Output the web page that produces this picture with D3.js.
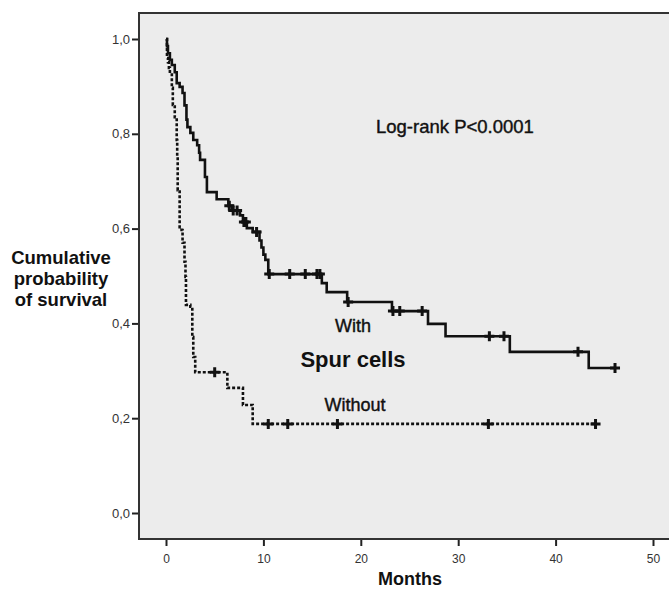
<!DOCTYPE html>
<html>
<head>
<meta charset="utf-8">
<script src="https://cdn.jsdelivr.net/npm/d3@7"></script>
<style>
body { margin: 0; background: #fff; }
svg { display: block; font-family: "Liberation Sans", Arial, sans-serif; }
</style>
</head>
<body>
<div class="container"></div>
<script>
var W = 669, H = 594;

// survival steps: time of drop (months) and survival after the drop
var withTimes = [0, 0.1, 0.2, 0.4, 0.6, 0.9, 1.1, 1.4, 1.7, 1.9, 2.1, 2.2, 2.5, 2.8, 3.2, 3.4, 3.5, 4.0, 4.2, 5.2, 6.4, 6.8, 7.6, 7.9, 8.3, 8.9, 9.6, 9.8, 10.0, 10.2, 10.5, 16.0, 16.5, 18.6, 23.2, 26.9, 28.7, 35.3, 43.4];
var withSurv  = [1.0, 0.985, 0.97, 0.956, 0.945, 0.93, 0.907, 0.899, 0.886, 0.86, 0.83, 0.814, 0.802, 0.787, 0.776, 0.76, 0.745, 0.709, 0.677, 0.662, 0.648, 0.638, 0.628, 0.614, 0.601, 0.593, 0.575, 0.56, 0.545, 0.534, 0.504, 0.485, 0.466, 0.445, 0.426, 0.399, 0.373, 0.340, 0.306];
var withCensored = [6.5, 6.9, 7.3, 8.0, 8.2, 9.3, 10.6, 12.7, 14.3, 15.5, 15.8, 18.7, 23.3, 24.0, 26.3, 33.2, 34.7, 42.3, 46.1];
var withEnd = 46.1;

var withoutTimes = [0, 0.1, 0.2, 0.3, 0.4, 0.6, 0.7, 0.9, 1.1, 1.15, 1.2, 1.4, 1.6, 1.7, 1.9, 2.0, 2.05, 2.5, 2.7, 2.8, 3.0, 6.3, 7.9, 8.9];
var withoutSurv  = [1.0, 0.96, 0.951, 0.939, 0.928, 0.897, 0.861, 0.835, 0.787, 0.751, 0.681, 0.603, 0.597, 0.570, 0.53, 0.498, 0.439, 0.435, 0.371, 0.329, 0.297, 0.264, 0.228, 0.188];
var withoutCensored = [5.0, 10.5, 12.5, 17.6, 33.1, 44.1];
var withoutEnd = 44.1;

var xTicks = [0, 10, 20, 30, 40, 50];
var yTicks = [0, 0.2, 0.4, 0.6, 0.8, 1.0];

var pLeft = 139, pTop = 13, pBottom = 539, pRight = W;

var svg = d3.select('.container').append('svg')
  .attr('width', W)
  .attr('height', H);

var x = d3.scaleLinear().domain([0, 50]).range([166, 653]);
var y = d3.scaleLinear().domain([0, 1]).range([513, 39]);

// plot background
svg.append('rect')
  .attr('x', pLeft).attr('y', pTop)
  .attr('width', pRight - pLeft).attr('height', pBottom - pTop)
  .style('fill', '#ececec');

// axes
var xAxis = d3.axisBottom(x).tickValues(xTicks).tickSize(7).tickFormat(d3.format('d'));
var xg = svg.append('g')
  .attr('transform', 'translate(0,' + pBottom + ')')
  .call(xAxis);
xg.select('.domain').remove();
xg.selectAll('line').attr('stroke', '#222').attr('stroke-width', 2);
xg.selectAll('text').attr('font-size', 12).attr('fill', '#333').attr('dy', '1.15em')
  .attr('font-family', '"Liberation Sans Narrow", "Liberation Sans", sans-serif');

var yAxis = d3.axisLeft(y).tickValues(yTicks).tickSize(7)
  .tickFormat(function(d) { return d.toFixed(1).replace('.', ','); });
var yg = svg.append('g')
  .attr('transform', 'translate(' + pLeft + ',0)')
  .call(yAxis);
yg.select('.domain').remove();
yg.selectAll('line').attr('stroke', '#222').attr('stroke-width', 2);
yg.selectAll('text').attr('font-size', 13).attr('fill', '#333').attr('x', -9);

// frame
svg.append('path')
  .attr('d', 'M' + pRight + ',' + pTop + 'H' + pLeft + 'V' + pBottom + 'H' + pRight)
  .style('fill', 'none')
  .style('stroke', '#333')
  .style('stroke-width', 2);

function steps(times, surv, end) {
  var pts = times.map(function(t, i) { return {t: t, s: surv[i]}; });
  pts.push({t: end, s: surv[surv.length - 1]});
  return pts;
}
function survAt(times, surv, t) {
  var s = 1;
  for (var i = 0; i < times.length; i++) if (times[i] <= t) s = surv[i];
  return s;
}

var line = d3.line()
  .curve(d3.curveStepAfter)
  .x(function(d) { return x(d.t); })
  .y(function(d) { return y(d.s); });

svg.append('path')
  .datum(steps(withoutTimes, withoutSurv, withoutEnd))
  .attr('d', line)
  .style('fill', 'none')
  .style('stroke', '#111')
  .style('stroke-width', 2.6)
  .style('stroke-dasharray', '3,2');

svg.append('path')
  .datum(steps(withTimes, withSurv, withEnd))
  .attr('d', line)
  .style('fill', 'none')
  .style('stroke', '#111')
  .style('stroke-width', 2.6);

var cross = 'M-5,0H5M0,-5V5';
svg.selectAll('.cw')
  .data(withCensored)
  .enter().append('path')
  .attr('class', 'cw')
  .attr('transform', function(d) { return 'translate(' + x(d) + ',' + y(survAt(withTimes, withSurv, d)) + ')'; })
  .attr('d', cross)
  .style('stroke', '#111')
  .style('stroke-width', 3);

svg.selectAll('.cwo')
  .data(withoutCensored)
  .enter().append('path')
  .attr('class', 'cwo')
  .attr('transform', function(d) { return 'translate(' + x(d) + ',' + y(survAt(withoutTimes, withoutSurv, d)) + ')'; })
  .attr('d', cross)
  .style('stroke', '#111')
  .style('stroke-width', 3);

// annotations
svg.append('text')
  .attr('x', 376).attr('y', 133)
  .attr('font-size', 18.5)
  .attr('fill', '#111')
  .style('stroke', '#111').style('stroke-width', 0.4)
  .text('Log-rank P<0.0001');

svg.append('text')
  .attr('x', 353).attr('y', 332)
  .attr('text-anchor', 'middle')
  .attr('font-size', 18)
  .attr('fill', '#111')
  .style('stroke', '#111').style('stroke-width', 0.4)
  .text('With');

svg.append('text')
  .attr('x', 353).attr('y', 367)
  .attr('text-anchor', 'middle')
  .attr('font-size', 22)
  .attr('font-weight', 'bold')
  .attr('fill', '#111')
  .text('Spur cells');

svg.append('text')
  .attr('x', 355).attr('y', 411)
  .attr('text-anchor', 'middle')
  .attr('font-size', 18)
  .attr('fill', '#111')
  .style('stroke', '#111').style('stroke-width', 0.4)
  .text('Without');

// axis titles
var ylab = ['Cumulative', 'probability', 'of survival'];
svg.selectAll('.ylab')
  .data(ylab)
  .enter().append('text')
  .attr('class', 'ylab')
  .attr('x', 61)
  .attr('y', function(d, i) { return 264 + i * 21; })
  .attr('text-anchor', 'middle')
  .attr('font-size', 18.5)
  .attr('font-weight', 'bold')
  .attr('fill', '#111')
  .text(function(d) { return d; });

svg.append('text')
  .attr('x', 410).attr('y', 585)
  .attr('text-anchor', 'middle')
  .attr('font-size', 18)
  .attr('font-weight', 'bold')
  .attr('fill', '#111')
  .text('Months');
</script>
</body>
</html>
